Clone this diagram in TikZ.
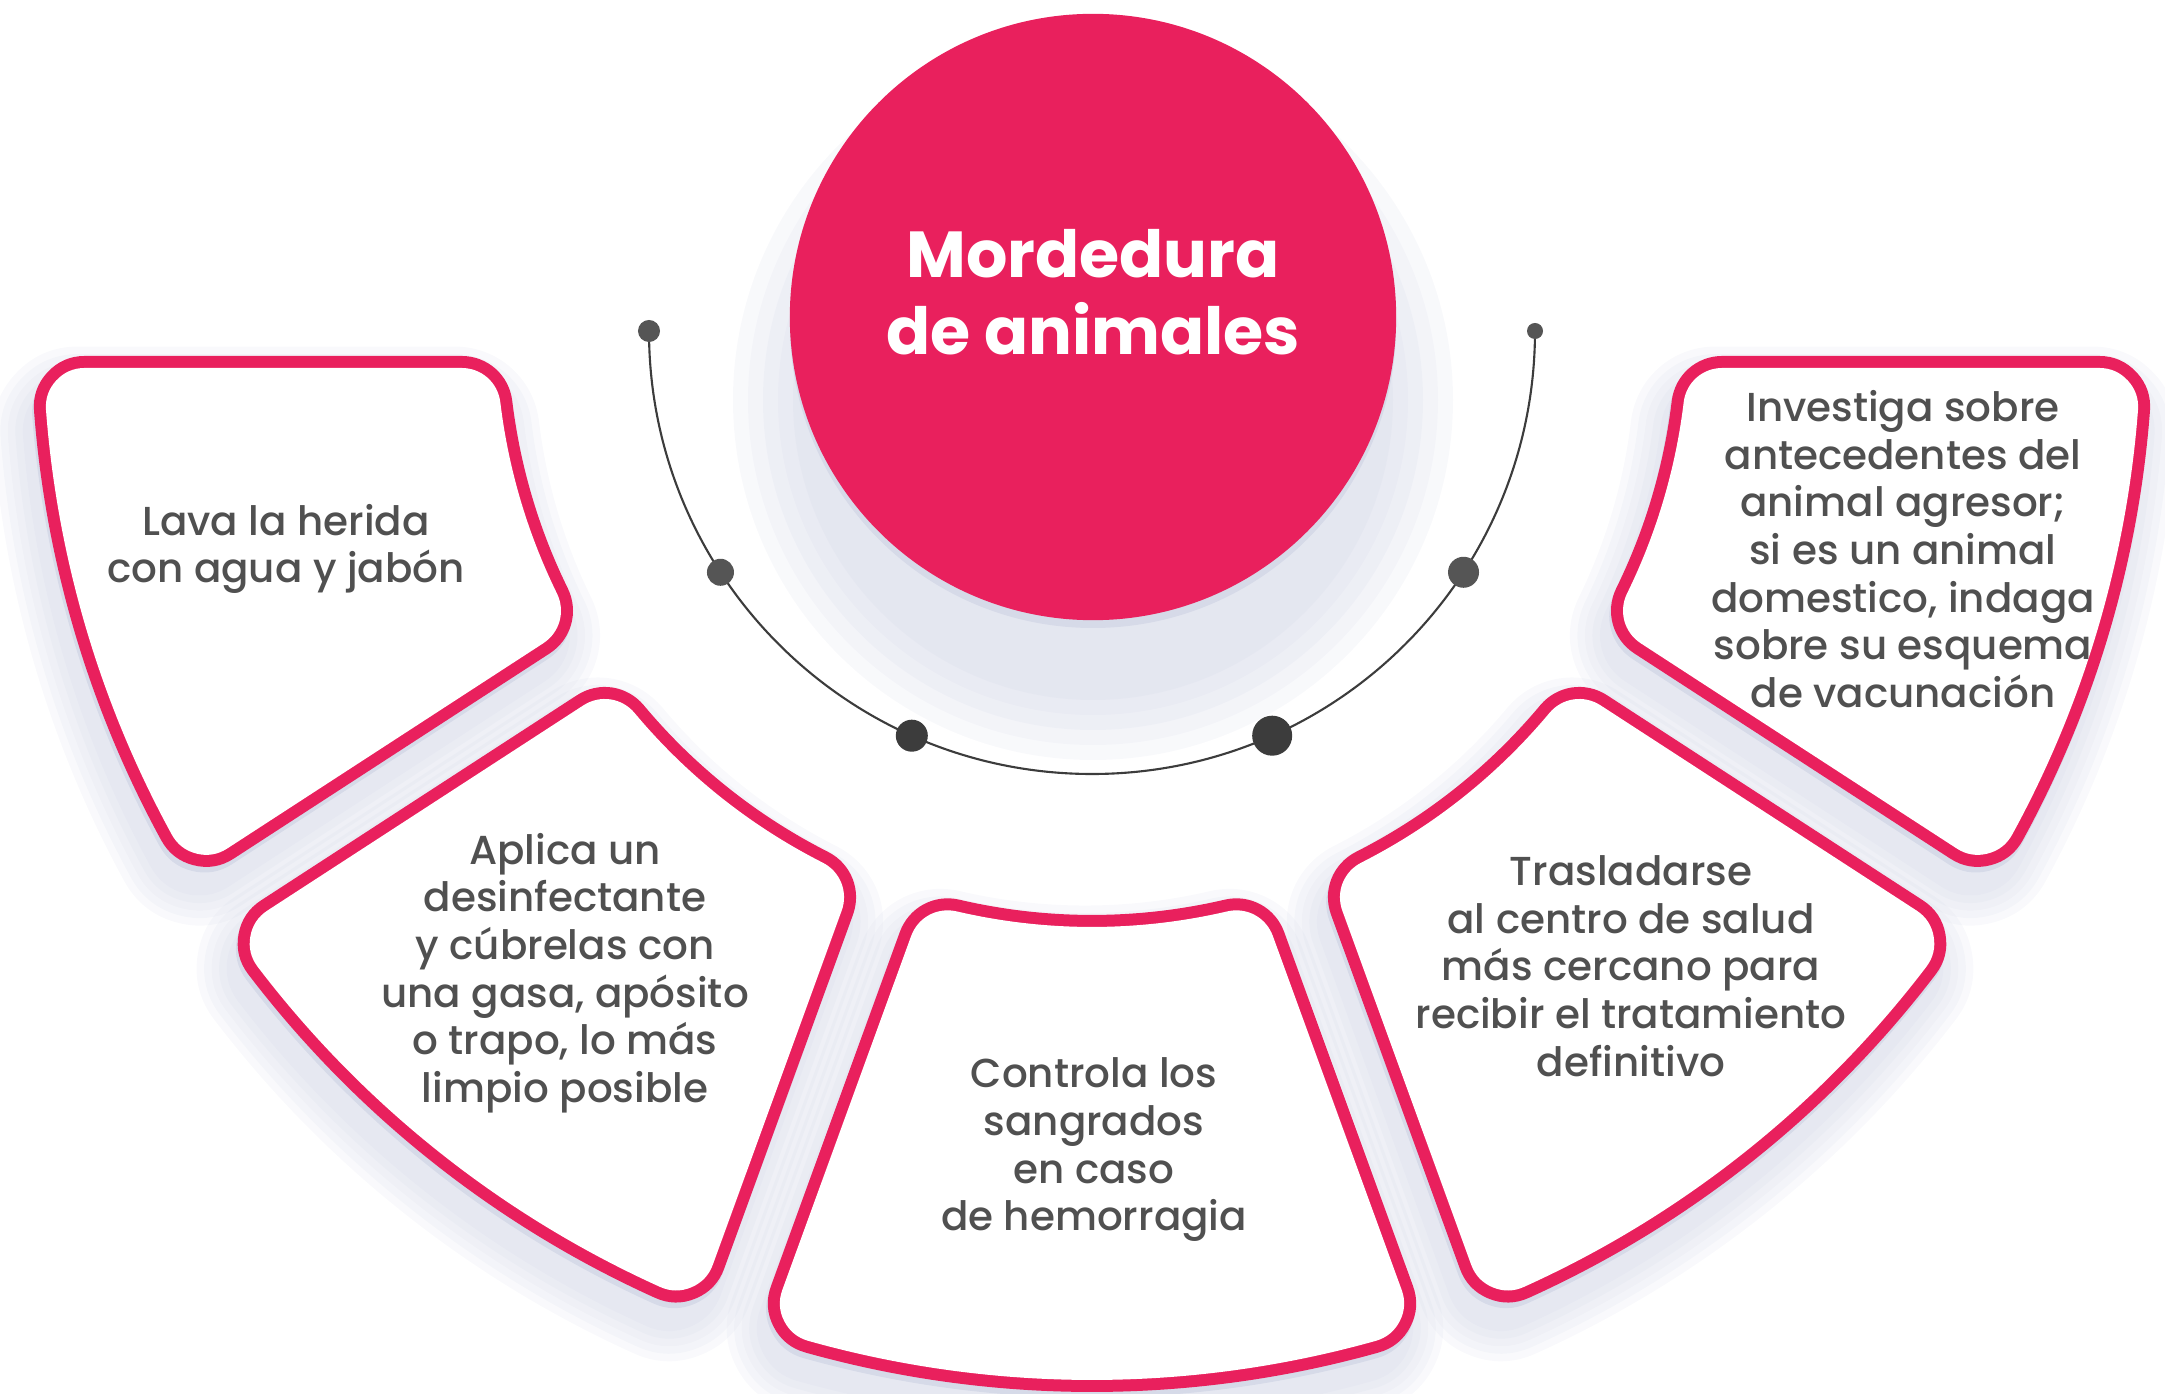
\documentclass[tikz,border=0pt]{standalone}
\usepackage{fontspec}
\setmainfont{Poppins}
\newfontfamily\cuerpofont{Poppins Medium}

\definecolor{rosa}{HTML}{E9205D}
\definecolor{gristexto}{HTML}{505050}
\definecolor{punto}{HTML}{555555}
\definecolor{puntoosc}{HTML}{3C3C3C}
\definecolor{sombra}{HTML}{C3C8DE}
\definecolor{borde}{HTML}{D6DAE8}

% geometry of the fan (px)
\def\rin{590}
\def\rout{1055}
\def\gap{31}
\def\rnd{45}

% one sector of the fan, shrunk by #3
\newcommand{\petalpath}[3]{%
  ({#1+asin((\gap+#3)/(\rout-#3))}:{\rout-#3}) --
  ({#1+asin((\gap+#3)/(\rin+#3))}:{\rin+#3})
  arc[start angle={#1+asin((\gap+#3)/(\rin+#3))}, end angle={#2-asin((\gap+#3)/(\rin+#3))}, radius={\rin+#3}] --
  ({#2-asin((\gap+#3)/(\rout-#3))}:{\rout-#3})
  arc[start angle={#2-asin((\gap+#3)/(\rout-#3))}, end angle={#1+asin((\gap+#3)/(\rout-#3))}, radius={\rout-#3}] -- cycle}

\tikzset{
  rim/.style={draw=#1, fill=#1, line join=round},
  texto/.style={text=gristexto, align=center, inner sep=0pt,
    font=\cuerpofont\fontsize{11.5}{13.55}\selectfont},
  titulo/.style={text=white, align=center, inner sep=0pt,
    font=\bfseries\fontsize{18.5}{22}\selectfont},
  bola/.style={circle, fill=#1, inner sep=0pt},
  linea/.style={draw=puntoosc, line width=0.6pt}
}

\begin{document}
\begin{tikzpicture}[x=0.01cm, y=0.01cm]
  \useasboundingbox (0,0) rectangle (2165,-1394);
  \coordinate (hub) at (1092,-331);

  % shadows
  \begin{scope}[shift={(hub)}]
    \foreach \a/\b in {180/213,213/250,250/290,290/327,327/360}
      \foreach \w in {1.1,1.25,1.4,1.55,1.7}
        \filldraw[rim=sombra, opacity=0.1, line width=\w cm, xshift=-2pt, yshift=-7pt]
          \petalpath{\a}{\b}{\rnd};
  \end{scope}
  \foreach \r in {300,315,330,345,360}
    \fill[sombra, opacity=0.11] (1093,-400) circle (\r);

  % boxes
  \begin{scope}[shift={(hub)}]
    \foreach \a/\b in {180/213,213/250,250/290,290/327,327/360}{
      \filldraw[rim=borde, line width=1.02cm, xshift=-0.5pt, yshift=-1.6pt] \petalpath{\a}{\b}{\rnd};
      \filldraw[rim=rosa, line width=1.02cm] \petalpath{\a}{\b}{\rnd};
      \filldraw[rim=white, line width=0.78cm] \petalpath{\a}{\b}{\rnd};
    }
  \end{scope}

  % centre circle
  \fill[borde] (1093,-325) circle (303);
  \node[circle, fill=rosa, minimum size=6.06cm, inner sep=0pt] (nucleo) at (1093,-317) {};
  \node[titulo] (tema) at (1093,-292) {Mordedura\\de animales};

  % arc with dots
  \draw[linea] (hub) ++(180:443) arc[start angle=180, end angle=360, radius=443];
  \node[bola=punto, minimum size=0.22cm] (p1) at ([shift={(180:443)}]hub) {};
  \node[bola=punto, minimum size=0.27cm] (p2) at ([shift={(213:443)}]hub) {};
  \node[bola=puntoosc, minimum size=0.32cm] (p3) at ([shift={(246:443)}]hub) {};
  \node[bola=puntoosc, minimum size=0.40cm] (p4) at ([shift={(294:443)}]hub) {};
  \node[bola=punto, minimum size=0.31cm] (p5) at ([shift={(327:443)}]hub) {};
  \node[bola=punto, minimum size=0.16cm] (p6) at ([shift={(360:443)}]hub) {};

  % texts
  \node[texto] (lava) at (286,-549) {Lava la herida\\con agua y jabón};
  \node[texto] (aplica) at (565,-973) {Aplica un\\desinfectante\\y cúbrelas con\\una gasa, apósito\\o trapo, lo más\\limpio posible};
  \node[texto] (controla) at (1094,-1150) {Controla los\\sangrados\\en caso\\de hemorragia};
  \node[texto] (traslado) at (1631,-966) {Trasladarse\\al centro de salud\\más cercano para\\recibir el tratamiento\\definitivo};
  \node[texto] (investiga) at (1903,-549) {Investiga sobre\\antecedentes del\\animal agresor;\\si es un animal\\domestico, indaga\\sobre su esquema\\de vacunación};
\end{tikzpicture}
\end{document}
